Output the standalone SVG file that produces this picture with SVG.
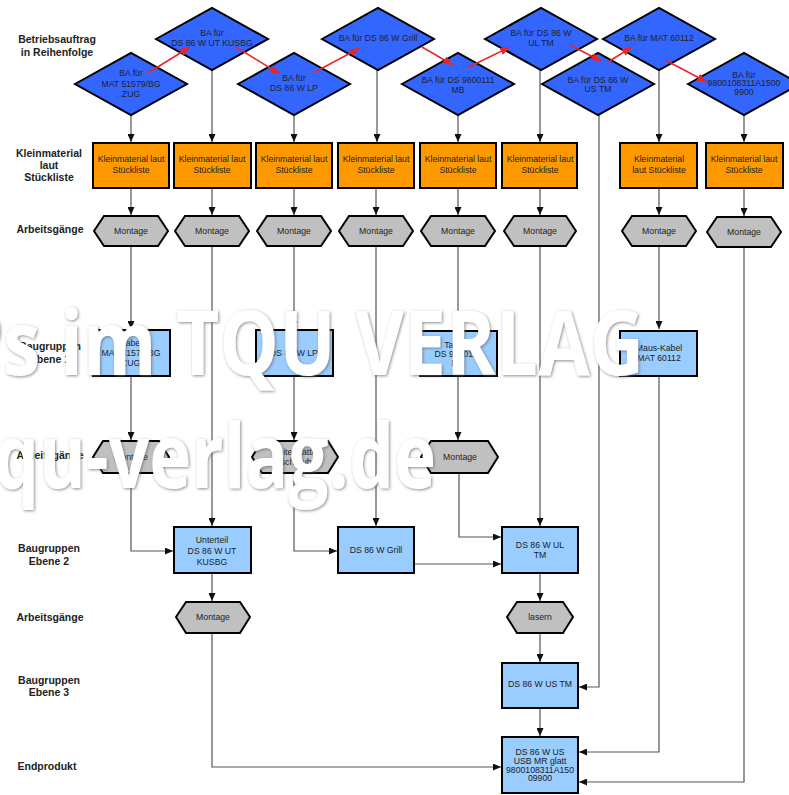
<svg xmlns="http://www.w3.org/2000/svg" width="789" height="795" viewBox="0 0 789 795">
  <style>
    text { font-family: "Liberation Sans", Arial, sans-serif; }
    .lbl { font-size: 10.5px; font-weight: bold; fill: #222; text-anchor: middle; }
    .t { font-size: 8.7px; fill: #222; text-anchor: middle; }
    .ba { fill: #3366ff; stroke: #000; stroke-width: 2; stroke-linejoin: miter; }
    .km { fill: #ff9900; stroke: #000; stroke-width: 2; }
    .bg { fill: #99ccff; stroke: #000; stroke-width: 2; }
    .ag { fill: #c0c0c0; stroke: #000; stroke-width: 2; stroke-linejoin: miter; }
    .c { fill: none; stroke: #555; stroke-width: 1.2; }
    .ca { fill: none; stroke: #555; stroke-width: 1.2; marker-end: url(#ah); }
    .seq { fill: none; stroke: #e8262a; stroke-width: 1.5; marker-end: url(#rh); }
    .wm { font-family: "Open Sans", "Noto Sans", sans-serif; font-weight: 700; font-size: 90px; fill: #fff; }
  </style>
  <defs>
    <marker id="ah" markerUnits="userSpaceOnUse" markerWidth="8" markerHeight="7" refX="8" refY="3.5" orient="auto">
      <path d="M0,0 L8,3.5 L0,7 z" fill="#111"/>
    </marker>
    <marker id="rh" markerUnits="userSpaceOnUse" markerWidth="10" markerHeight="8" refX="10" refY="4" orient="auto">
      <path d="M0,0 L10,4 L0,8 z" fill="#e8262a"/>
    </marker>
    <filter id="halo" x="-5%" y="-20%" width="110%" height="140%">
      <feGaussianBlur in="SourceAlpha" stdDeviation="1.6" result="b"/>
      <feOffset in="b" dx="1" dy="1" result="o"/>
      <feFlood flood-color="#666" flood-opacity="0.75"/>
      <feComposite in2="o" operator="in" result="s"/>
      <feMerge><feMergeNode in="s"/><feMergeNode in="SourceGraphic"/></feMerge>
    </filter>
  </defs>
  <rect width="789" height="795" fill="#fff"/>

  <!-- row labels -->
  <g id="labels">
    <text class="lbl" x="57" y="43">Betriebsauftrag</text>
    <text class="lbl" x="57" y="56">in Reihenfolge</text>
    <text class="lbl" x="49" y="157">Kleinmaterial</text>
    <text class="lbl" x="49" y="169">laut</text>
    <text class="lbl" x="49" y="181">Stückliste</text>
    <text class="lbl" x="50" y="233">Arbeitsgänge</text>
    <text class="lbl" x="50" y="350">Baugruppen</text>
    <text class="lbl" x="50" y="363">Ebene 1</text>
    <text class="lbl" x="50" y="459">Arbeitsgänge</text>
    <text class="lbl" x="49" y="552">Baugruppen</text>
    <text class="lbl" x="49" y="565">Ebene 2</text>
    <text class="lbl" x="50" y="621">Arbeitsgänge</text>
    <text class="lbl" x="49" y="684">Baugruppen</text>
    <text class="lbl" x="49" y="696">Ebene 3</text>
    <text class="lbl" x="47" y="770">Endprodukt</text>
  </g>

  <!-- material flow connectors -->
  <g id="connectors">
    <path class="ca" d="M131,115 V142"/>
    <path class="ca" d="M212,70 V142"/>
    <path class="ca" d="M294,115 V142"/>
    <path class="ca" d="M377,70 V142"/>
    <path class="ca" d="M458,115 V142"/>
    <path class="ca" d="M540,70 V142"/>
    <path class="ca" d="M599,115 V687 H579"/>
    <path class="ca" d="M659,70 V142"/>
    <path class="ca" d="M744,115 V142"/>

    <path class="ca" d="M131,188 V215"/>
    <path class="ca" d="M212,188 V215"/>
    <path class="ca" d="M294,188 V215"/>
    <path class="ca" d="M376,188 V215"/>
    <path class="ca" d="M458,188 V215"/>
    <path class="ca" d="M540,188 V215"/>
    <path class="ca" d="M659,188 V215"/>
    <path class="ca" d="M744,188 V216"/>

    <path class="ca" d="M131,246 V329"/>
    <path class="ca" d="M212,246 V526"/>
    <path class="ca" d="M294,246 V329"/>
    <path class="ca" d="M376,246 V526"/>
    <path class="ca" d="M458,246 V329"/>
    <path class="ca" d="M540,246 V526"/>
    <path class="ca" d="M659,246 V329"/>
    <path class="ca" d="M744,247 V782 H579"/>

    <path class="ca" d="M131,376 V440"/>
    <path class="ca" d="M294,376 V440"/>
    <path class="ca" d="M458,376 V440"/>
    <path class="ca" d="M659,376 V752 H579"/>

    <path class="ca" d="M131,473 V551 H173"/>
    <path class="ca" d="M294,473 V551 H337"/>
    <path class="ca" d="M459,473 V537 H501"/>
    <path class="ca" d="M414,564 H501"/>

    <path class="ca" d="M212,573 V601"/>
    <path class="ca" d="M212,633 V767 H501"/>
    <path class="ca" d="M540,573 V601"/>
    <path class="ca" d="M540,633 V662"/>
    <path class="ca" d="M540,708 V736"/>
  </g>

  <!-- production orders -->
  <g id="ba1"><polygon class="ba" points="75,84 131,53 187,84 131,115"/>
    <text class="t" x="131" y="76">BA für</text><text class="t" x="131" y="87">MAT 51579/BG</text><text class="t" x="131" y="97">ZUG</text></g>
  <g id="ba2"><polygon class="ba" points="156,39 212,8 268,39 212,70"/>
    <text class="t" x="212" y="36">BA für</text><text class="t" x="212" y="46">DS 86 W UT KUSBG</text></g>
  <g id="ba3"><polygon class="ba" points="238,84 294,53 350,84 294,115"/>
    <text class="t" x="294" y="81">BA für</text><text class="t" x="294" y="91">DS 86 W LP</text></g>
  <g id="ba4"><polygon class="ba" points="322,39 378,8 434,39 378,70"/>
    <text class="t" x="378" y="41">BA für DS 86 W Grill</text></g>
  <g id="ba5"><polygon class="ba" points="402,84 458,53 514,84 458,115"/>
    <text class="t" x="458" y="83">BA für DS 9800111</text><text class="t" x="458" y="93">MB</text></g>
  <g id="ba6"><polygon class="ba" points="485,39 541,8 597,39 541,70"/>
    <text class="t" x="541" y="36">BA für DS 86 W</text><text class="t" x="541" y="46">UL TM</text></g>
  <g id="ba7"><polygon class="ba" points="542,84 598,53 654,84 598,115"/>
    <text class="t" x="598" y="83">BA für DS 86 W</text><text class="t" x="598" y="92">US TM</text></g>
  <g id="ba8"><polygon class="ba" points="603,39 659,8 715,39 659,70"/>
    <text class="t" x="659" y="41">BA für MAT 60112</text></g>
  <g id="ba9"><polygon class="ba" points="688,84 744,53 800,84 744,115"/>
    <text class="t" x="744" y="78">BA für</text><text class="t" x="744" y="86">9800108311A1500</text><text class="t" x="744" y="95">9900</text></g>

  <!-- small parts -->
  <g id="km1"><rect class="km" x="93" y="143" width="76" height="45"/>
    <text class="t" x="131" y="162">Kleinmaterial laut</text><text class="t" x="131" y="173">Stückliste</text></g>
  <g id="km2"><rect class="km" x="174" y="143" width="77" height="45"/>
    <text class="t" x="212" y="162">Kleinmaterial laut</text><text class="t" x="212" y="173">Stückliste</text></g>
  <g id="km3"><rect class="km" x="256" y="143" width="76" height="45"/>
    <text class="t" x="294" y="162">Kleinmaterial laut</text><text class="t" x="294" y="173">Stückliste</text></g>
  <g id="km4"><rect class="km" x="338" y="143" width="76" height="45"/>
    <text class="t" x="376" y="162">Kleinmaterial laut</text><text class="t" x="376" y="173">Stückliste</text></g>
  <g id="km5"><rect class="km" x="420" y="143" width="76" height="45"/>
    <text class="t" x="458" y="162">Kleinmaterial laut</text><text class="t" x="458" y="173">Stückliste</text></g>
  <g id="km6"><rect class="km" x="502" y="143" width="75" height="45"/>
    <text class="t" x="540" y="162">Kleinmaterial laut</text><text class="t" x="540" y="173">Stückliste</text></g>
  <g id="km7"><rect class="km" x="620" y="143" width="77" height="45"/>
    <text class="t" x="659" y="162">Kleinmaterial</text><text class="t" x="659" y="173">laut Stückliste</text></g>
  <g id="km8"><rect class="km" x="706" y="143" width="77" height="45"/>
    <text class="t" x="744" y="162">Kleinmaterial laut</text><text class="t" x="744" y="173">Stückliste</text></g>

  <!-- operations, first level -->
  <g id="op1"><polygon class="ag" points="94,231 104,216 158,216 168,231 158,246 104,246"/><text class="t" x="131" y="234">Montage</text></g>
  <g id="op2"><polygon class="ag" points="175,231 185,216 239,216 249,231 239,246 185,246"/><text class="t" x="212" y="234">Montage</text></g>
  <g id="op3"><polygon class="ag" points="257,231 267,216 321,216 331,231 321,246 267,246"/><text class="t" x="294" y="234">Montage</text></g>
  <g id="op4"><polygon class="ag" points="339,231 349,216 403,216 413,231 403,246 349,246"/><text class="t" x="376" y="234">Montage</text></g>
  <g id="op5"><polygon class="ag" points="421,231 431,216 485,216 495,231 485,246 431,246"/><text class="t" x="458" y="234">Montage</text></g>
  <g id="op6"><polygon class="ag" points="504,231 514,216 566,216 576,231 566,246 514,246"/><text class="t" x="540" y="234">Montage</text></g>
  <g id="op7"><polygon class="ag" points="622,231 632,216 686,216 696,231 686,246 632,246"/><text class="t" x="659" y="234">Montage</text></g>
  <g id="op8"><polygon class="ag" points="707,232 717,217 771,217 781,232 771,247 717,247"/><text class="t" x="744" y="235">Montage</text></g>

  <!-- assemblies, level 1 -->
  <g id="bg1-1"><rect class="bg" x="93" y="330" width="77" height="46"/>
    <text class="t" x="131" y="346">Kabel</text><text class="t" x="131" y="356">MAT 51579/BG</text><text class="t" x="131" y="366">ZUG</text></g>
  <g id="bg1-2"><rect class="bg" x="256" y="330" width="77" height="46"/>
    <text class="t" x="294" y="356">DS 86 W LP</text></g>
  <g id="bg1-3"><rect class="bg" x="420" y="331" width="77" height="45"/>
    <text class="t" x="458" y="348">Tasche</text><text class="t" x="458" y="357">DS 9800111</text><text class="t" x="458" y="366">MB</text></g>
  <g id="bg1-4"><rect class="bg" x="620" y="331" width="77" height="45"/>
    <text class="t" x="659" y="351">Maus-Kabel</text><text class="t" x="659" y="361">MAT 60112</text></g>

  <!-- operations, second level -->
  <g id="op9"><polygon class="ag" points="93,457 103,441 159,441 169,457 159,473 103,473"/><text class="t" x="131" y="460">Montage</text></g>
  <g id="op10"><polygon class="ag" points="252,457 262,441 328,441 338,457 328,473 262,473"/>
    <text class="t" x="295" y="455">Leiterplatte</text><text class="t" x="295" y="465">verschrauben</text></g>
  <g id="op11"><polygon class="ag" points="421,457 431,441 488,441 498,457 488,473 431,473"/><text class="t" x="460" y="460">Montage</text></g>

  <!-- assemblies, level 2 -->
  <g id="bg2-1"><rect class="bg" x="174" y="527" width="77" height="46"/>
    <text class="t" x="212" y="543">Unterteil</text><text class="t" x="212" y="554">DS 86 W UT</text><text class="t" x="212" y="565">KUSBG</text></g>
  <g id="bg2-2"><rect class="bg" x="338" y="527" width="76" height="46"/>
    <text class="t" x="376" y="553">DS 86 W Grill</text></g>
  <g id="bg2-3"><rect class="bg" x="502" y="527" width="76" height="46"/>
    <text class="t" x="540" y="548">DS 86 W UL</text><text class="t" x="540" y="558">TM</text></g>

  <!-- operations, third level -->
  <g id="op12"><polygon class="ag" points="176,617 186,602 240,602 250,617 240,633 186,633"/><text class="t" x="213" y="620">Montage</text></g>
  <g id="op13"><polygon class="ag" points="507,617 517,602 563,602 573,617 563,633 517,633"/><text class="t" x="540" y="620">lasern</text></g>

  <!-- assembly, level 3 -->
  <g id="bg3-1"><rect class="bg" x="502" y="663" width="76" height="45"/>
    <text class="t" x="540" y="687">DS 86 W US TM</text></g>

  <!-- end product -->
  <g id="end"><rect class="bg" x="502" y="737" width="76" height="56"/>
    <text class="t" x="540" y="755">DS 86 W US</text><text class="t" x="540" y="764">USB MR glatt</text>
    <text class="t" x="540" y="773">9800108311A150</text><text class="t" x="540" y="781">09900</text></g>

  <!-- order sequence -->
  <g id="sequence">
    <path class="seq" d="M148,73 L190,47"/>
    <path class="seq" d="M236,47 L280,74"/>
    <path class="seq" d="M313,73 L360,48"/>
    <path class="seq" d="M422,47 L453,65"/>
    <path class="seq" d="M467,68 L510,47"/>
    <path class="seq" d="M570,45 L601,61"/>
    <path class="seq" d="M608,62 L632,47"/>
    <path class="seq" d="M665,60 L707,82"/>
  </g>

  <!-- publisher stamp -->
  <g id="stamp" filter="url(#halo)">
    <text class="wm" x="-44" y="375" textLength="688" lengthAdjust="spacingAndGlyphs">Ps im TQU VERLAG</text>
    <text class="wm" x="-6" y="488" textLength="442" lengthAdjust="spacingAndGlyphs">qu-verlag.de</text>
  </g>
</svg>
